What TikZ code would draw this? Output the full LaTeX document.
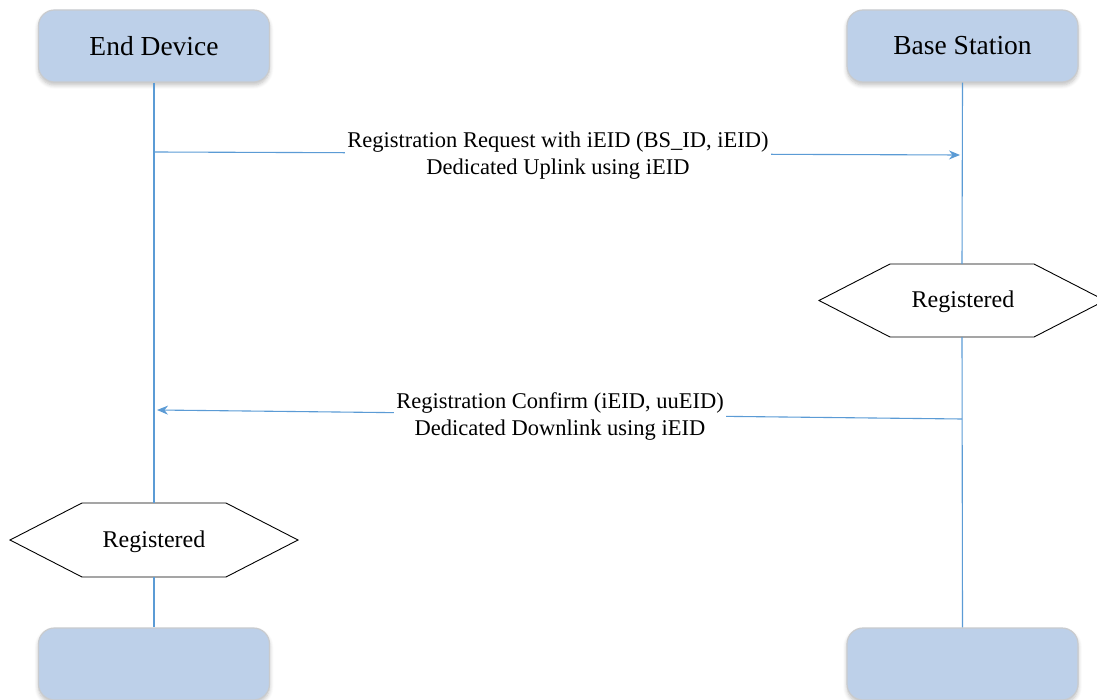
\documentclass[tikz,border=0pt]{standalone}
\usepackage{fontspec}
\setmainfont{Liberation Serif}
\usetikzlibrary{arrows.meta,shadows.blur}
\definecolor{boxfill}{HTML}{BDD0E9}
\definecolor{boxdraw}{HTML}{C9CBCE}
\definecolor{lifeblue}{HTML}{5B9BD5}
\tikzset{
  actor/.style={draw=boxdraw, line width=1.2pt, fill=boxfill, rounded corners=16pt,
    minimum width=231pt, minimum height=72pt, inner sep=0pt,
    blur shadow={shadow xshift=0pt, shadow yshift=-3pt, shadow blur steps=6, shadow opacity=25, shadow blur radius=4pt},
    font=\fontsize{27.5}{30}\selectfont},
  lifeline/.style={draw=lifeblue, line width=1.1pt},
  msg/.style={draw=lifeblue, line width=1.1pt, -{Stealth[length=11pt,width=9pt]}},
  msglabel/.style={fill=white, inner sep=2pt, align=center, font=\fontsize{22.5}{27}\selectfont},
  hex/.style={draw=black, line width=0.9pt, fill=white},
  hextext/.style={inner sep=0pt, font=\fontsize{24}{26}\selectfont}
}
\begin{document}
\begin{tikzpicture}[x=1pt,y=-1pt]
\useasboundingbox (0,0) rectangle (1097,700);
\clip (0,0) rectangle (1097,700);
% actors
\node[actor] (ed) at (154,46) {End Device};
\node[actor] (bs) at (962.5,46) {Base Station};
\node[actor] (edb) at (154,664) {};
\node[actor] (bsb) at (962.5,664) {};
% hexagons
\coordinate (hRn) at (962,264);
\coordinate (hRs) at (962,337);
\coordinate (hLn) at (154,503);
\coordinate (hLs) at (154,577);
\draw[hex] (819,300.5) -- (890,264) -- (1034,264) -- (1105,300.5) -- (1034,337) -- (890,337) -- cycle;
\draw[hex] (10,540) -- (82,503) -- (226,503) -- (298,540) -- (226,577) -- (82,577) -- cycle;
\node[hextext] (regR) at (963,302) {Registered};
\node[hextext] (regL) at (154,542) {Registered};
% lifelines
\draw[lifeline] (ed.south) -- (hLn);
\draw[lifeline] (hLs) -- (edb.north);
\draw[lifeline] (bs.south) -- (hRn);
\draw[lifeline] (hRs) -- (bsb.north);
% messages
\coordinate (m1s) at (154,152);
\coordinate (m1e) at (960,155);
\coordinate (m2s) at (962,419);
\coordinate (m2e) at (157,410);
\draw[msg] (m1s) -- (m1e);
\draw[msg] (m2s) -- (m2e);
\node[msglabel] (l1) at (558,156) {Registration Request with iEID (BS\_ID, iEID)\\Dedicated Uplink using iEID};
\node[msglabel] (l2) at (560,417) {Registration Confirm (iEID, uuEID)\\Dedicated Downlink using iEID};
\end{tikzpicture}
\end{document}
